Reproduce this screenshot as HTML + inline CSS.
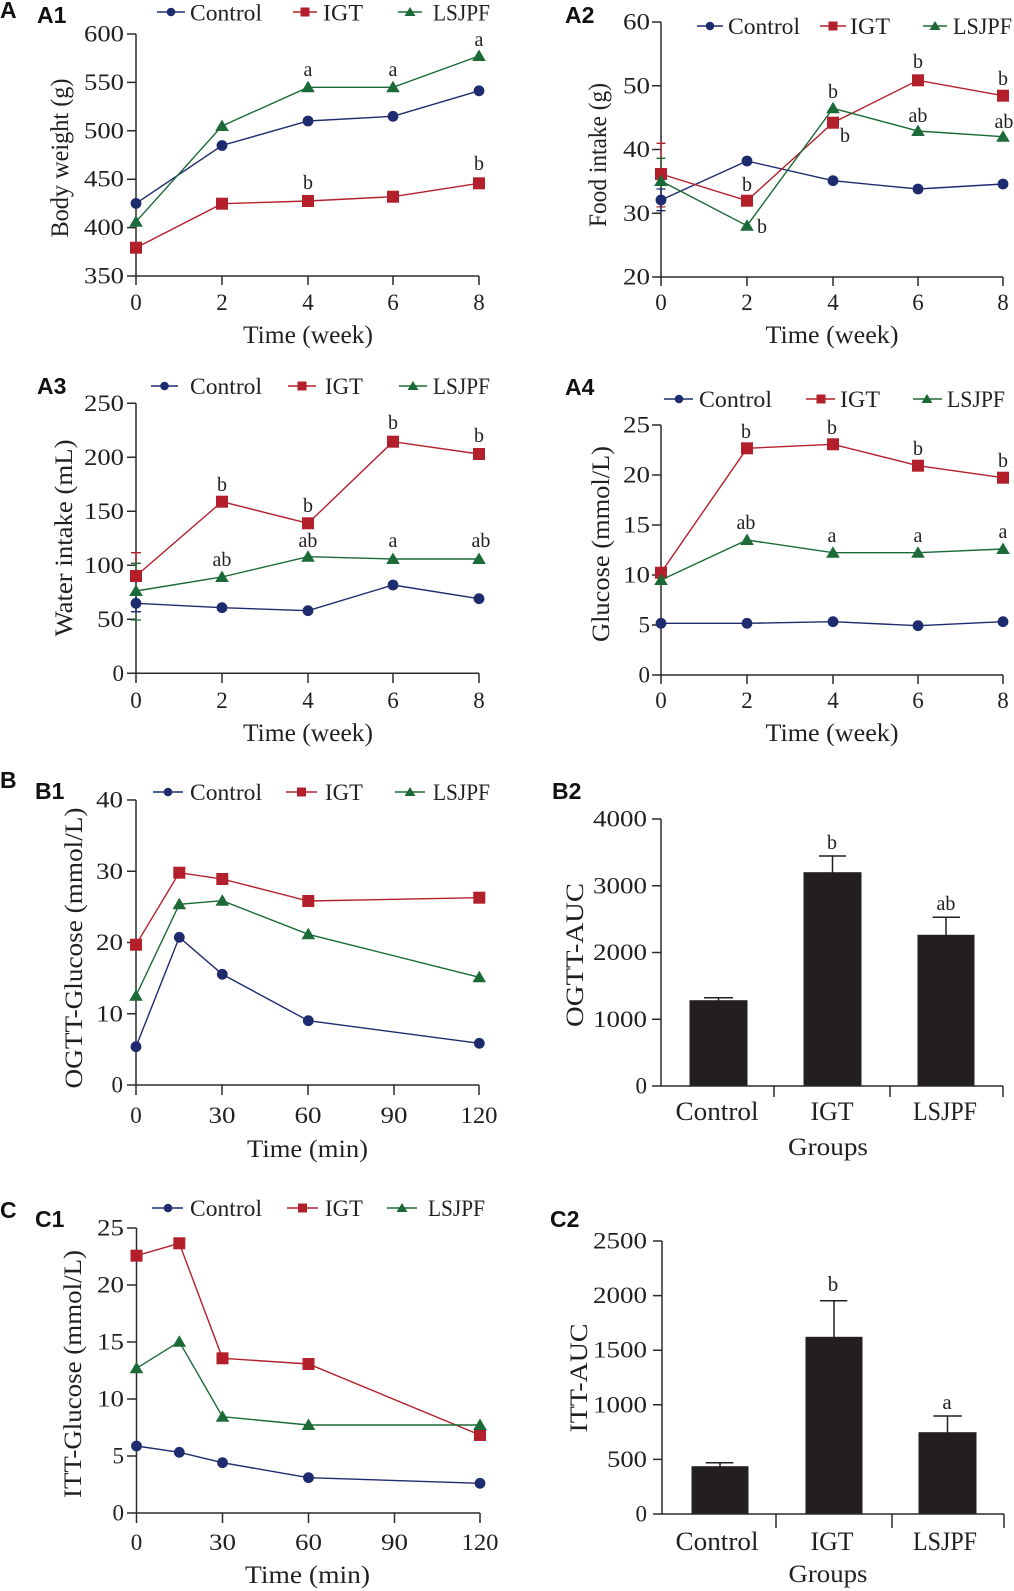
<!DOCTYPE html>
<html><head><meta charset="utf-8">
<style>
html,body{margin:0;padding:0;background:#fff}
svg{display:block}
text{font-family:"Liberation Serif",serif;fill:#231f20}
.tk{font-size:23px}
.lg{font-size:23px}
.ti{font-size:25px}
.an{font-size:20px}
.ct{font-size:26px}
.pl{font-family:"Liberation Sans",sans-serif;font-weight:bold;font-size:23px;fill:#111}
.ax{stroke:#2b2b2b;stroke-width:1.5;fill:none}
.cb{stroke:#1f2b6f;stroke-width:1.4;fill:none;marker-start:url(#mc);marker-mid:url(#mc);marker-end:url(#mc)}
.cr{stroke:#b3202c;stroke-width:1.4;fill:none;marker-start:url(#ms);marker-mid:url(#ms);marker-end:url(#ms)}
.cg{stroke:#1b6a37;stroke-width:1.4;fill:none;marker-start:url(#mt);marker-mid:url(#mt);marker-end:url(#mt)}
.lb{stroke:#1f2b6f;stroke-width:1.4;fill:none;marker-mid:url(#lc)}
.lr{stroke:#b3202c;stroke-width:1.4;fill:none;marker-mid:url(#ls)}
.lgr{stroke:#1b6a37;stroke-width:1.4;fill:none;marker-mid:url(#lt)}
.eb{stroke:#1f2b6f;stroke-width:1.3;fill:none}
.er{stroke:#b3202c;stroke-width:1.3;fill:none}
.eg{stroke:#1b6a37;stroke-width:1.3;fill:none}
.bar{fill:#231f20;stroke:#231f20;stroke-width:1}
.be{stroke:#231f20;stroke-width:1.5;fill:none}
</style></head>
<body>
<svg width="1014" height="1591" viewBox="0 0 1014 1591" xmlns="http://www.w3.org/2000/svg">
<defs>
<marker id="mc" markerUnits="userSpaceOnUse" viewBox="-8 -8 16 16" markerWidth="16" markerHeight="16" refX="0" refY="0" overflow="visible"><circle r="5.4" fill="#1f2b6f"/></marker>
<marker id="ms" markerUnits="userSpaceOnUse" viewBox="-8 -8 16 16" markerWidth="16" markerHeight="16" refX="0" refY="0" overflow="visible"><rect x="-6" y="-6" width="12" height="12" fill="#b3202c"/></marker>
<marker id="mt" markerUnits="userSpaceOnUse" viewBox="-8 -8 16 16" markerWidth="16" markerHeight="16" refX="0" refY="0" overflow="visible"><polygon points="0,-6.5 6.8,5 -6.8,5" fill="#1b6a37"/></marker>
<marker id="lc" markerUnits="userSpaceOnUse" viewBox="-8 -8 16 16" markerWidth="16" markerHeight="16" refX="0" refY="0" overflow="visible"><circle r="4.3" fill="#1f2b6f"/></marker>
<marker id="ls" markerUnits="userSpaceOnUse" viewBox="-8 -8 16 16" markerWidth="16" markerHeight="16" refX="0" refY="0" overflow="visible"><rect x="-4.5" y="-4.5" width="9" height="9" fill="#b3202c"/></marker>
<marker id="lt" markerUnits="userSpaceOnUse" viewBox="-8 -8 16 16" markerWidth="16" markerHeight="16" refX="0" refY="0" overflow="visible"><polygon points="0,-5 5.5,4 -5.5,4" fill="#1b6a37"/></marker>
</defs>
<rect width="1014" height="1591" fill="#fff"/>

<!-- Panel labels -->
<text class="pl" x="0" y="18">A</text>
<text class="pl" x="37" y="23">A1</text>
<text class="pl" x="565" y="23">A2</text>
<text class="pl" x="37" y="394">A3</text>
<text class="pl" x="565" y="395">A4</text>
<text class="pl" x="0" y="788">B</text>
<text class="pl" x="35" y="799">B1</text>
<text class="pl" x="552" y="799">B2</text>
<text class="pl" x="0" y="1218">C</text>
<text class="pl" x="35" y="1227">C1</text>
<text class="pl" x="550" y="1227">C2</text>

<!-- ================= A1 ================= -->
<path class="ax" d="M136,34 V276 M127,276 H479 M127,34 H136 M127,82.4 H136 M127,130.8 H136 M127,179.2 H136 M127,227.6 H136 M136,276 V285 M222,276 V285 M308,276 V285 M393,276 V285 M479,276 V285"/>
<g class="tk" text-anchor="end">
<text x="124" y="41.5" textLength="40" lengthAdjust="spacingAndGlyphs">600</text>
<text x="124" y="89.9" textLength="40" lengthAdjust="spacingAndGlyphs">550</text>
<text x="124" y="138.3" textLength="40" lengthAdjust="spacingAndGlyphs">500</text>
<text x="124" y="186.7" textLength="40" lengthAdjust="spacingAndGlyphs">450</text>
<text x="124" y="235.1" textLength="40" lengthAdjust="spacingAndGlyphs">400</text>
<text x="124" y="283.5" textLength="40" lengthAdjust="spacingAndGlyphs">350</text>
</g>
<g class="tk" text-anchor="middle">
<text x="136" y="310">0</text><text x="222" y="310">2</text><text x="308" y="310">4</text><text x="393" y="310">6</text><text x="479" y="310">8</text>
</g>
<text class="ti" x="308" y="343" text-anchor="middle" textLength="130" lengthAdjust="spacingAndGlyphs">Time (week)</text>
<text class="ti" transform="translate(68,158) rotate(-90)" text-anchor="middle" textLength="159" lengthAdjust="spacingAndGlyphs">Body weight (g)</text>
<polyline class="cb" points="136,203.4 222,145.5 308,121 393,116.3 479,90.8"/>
<polyline class="cr" points="136,247.7 222,203.7 308,201 393,196.7 479,183.3"/>
<polyline class="cg" points="136,221.7 222,126 308,87.3 393,87.3 479,56"/>
<g class="an" text-anchor="middle">
<text x="308" y="76">a</text><text x="393" y="76">a</text><text x="479" y="46">a</text>
<text x="308" y="189">b</text><text x="479" y="170">b</text>
</g>
<polyline class="lb" points="157,12 171,12 185,12"/>
<text class="lg" x="190" y="20.5" textLength="72" lengthAdjust="spacingAndGlyphs">Control</text>
<polyline class="lr" points="293,12 305,12 317,12"/>
<text class="lg" x="323" y="20.5" textLength="40" lengthAdjust="spacingAndGlyphs">IGT</text>
<polyline class="lgr" points="398,12 410,12 422,12"/>
<text class="lg" x="433" y="20.5" textLength="57" lengthAdjust="spacingAndGlyphs">LSJPF</text>

<!-- ================= A2 ================= -->
<path class="ax" d="M661,22 V277 M652,277 H1003 M652,22 H661 M652,85.75 H661 M652,149.5 H661 M652,213.25 H661 M661,277 V286 M747,277 V286 M833,277 V286 M918,277 V286 M1003,277 V286"/>
<g class="tk" text-anchor="end">
<text x="650" y="29.5" textLength="27" lengthAdjust="spacingAndGlyphs">60</text>
<text x="650" y="93.25" textLength="27" lengthAdjust="spacingAndGlyphs">50</text>
<text x="650" y="157" textLength="27" lengthAdjust="spacingAndGlyphs">40</text>
<text x="650" y="220.75" textLength="27" lengthAdjust="spacingAndGlyphs">30</text>
<text x="650" y="284.5" textLength="27" lengthAdjust="spacingAndGlyphs">20</text>
</g>
<g class="tk" text-anchor="middle">
<text x="661" y="310">0</text><text x="747" y="310">2</text><text x="833" y="310">4</text><text x="918" y="310">6</text><text x="1003" y="310">8</text>
</g>
<text class="ti" x="832" y="343" text-anchor="middle" textLength="133" lengthAdjust="spacingAndGlyphs">Time (week)</text>
<text class="ti" transform="translate(606,155) rotate(-90)" text-anchor="middle" textLength="144" lengthAdjust="spacingAndGlyphs">Food intake (g)</text>
<path class="er" d="M661,143.3 V206.9 M656.5,143.3 H665.5 M656.5,206.9 H665.5"/>
<path class="eg" d="M661,158.3 V203 M656.5,158.3 H665.5 M656.5,203 H665.5"/>
<path class="eb" d="M661,189 V210.7 M656.5,189 H665.5 M656.5,210.7 H665.5"/>
<polyline class="cb" points="661,200 747,161 833,180.7 918,189 1003,184"/>
<polyline class="cr" points="661,174 747,200.7 833,122.7 918,80.3 1003,95.7"/>
<polyline class="cg" points="661,181 747,225.7 833,108.3 918,131 1003,136.7"/>
<g class="an" text-anchor="middle">
<text x="833" y="98">b</text><text x="845" y="142">b</text><text x="747" y="191">b</text><text x="762" y="233">b</text>
<text x="918" y="68">b</text><text x="1003" y="85">b</text><text x="918" y="122">ab</text><text x="1004" y="128">ab</text>
</g>
<polyline class="lb" points="697,26 710,26 723,26"/>
<text class="lg" x="728" y="34" textLength="72" lengthAdjust="spacingAndGlyphs">Control</text>
<polyline class="lr" points="820,26 833,26 846,26"/>
<text class="lg" x="850" y="34" textLength="40" lengthAdjust="spacingAndGlyphs">IGT</text>
<polyline class="lgr" points="923,26 935,26 947,26"/>
<text class="lg" x="953" y="34" textLength="59" lengthAdjust="spacingAndGlyphs">LSJPF</text>

<!-- ================= A3 ================= -->
<path class="ax" d="M136,403.3 V673.3 M127,673.3 H479 M127,403.3 H136 M127,457.3 H136 M127,511.3 H136 M127,565.3 H136 M127,619.3 H136 M136,673.3 V683 M222,673.3 V683 M308,673.3 V683 M393,673.3 V683 M479,673.3 V683"/>
<g class="tk" text-anchor="end">
<text x="124" y="410.8" textLength="40" lengthAdjust="spacingAndGlyphs">250</text>
<text x="124" y="464.8" textLength="40" lengthAdjust="spacingAndGlyphs">200</text>
<text x="124" y="518.8" textLength="40" lengthAdjust="spacingAndGlyphs">150</text>
<text x="124" y="572.8" textLength="40" lengthAdjust="spacingAndGlyphs">100</text>
<text x="124" y="626.8" textLength="27" lengthAdjust="spacingAndGlyphs">50</text>
<text x="124" y="680.8">0</text>
</g>
<g class="tk" text-anchor="middle">
<text x="136" y="708">0</text><text x="222" y="708">2</text><text x="308" y="708">4</text><text x="393" y="708">6</text><text x="479" y="708">8</text>
</g>
<text class="ti" x="308" y="741" text-anchor="middle" textLength="130" lengthAdjust="spacingAndGlyphs">Time (week)</text>
<text class="ti" transform="translate(72,538) rotate(-90)" text-anchor="middle" textLength="197" lengthAdjust="spacingAndGlyphs">Water intake (mL)</text>
<path class="er" d="M136,552.7 V600 M131,552.7 H141"/>
<path class="eg" d="M136,563.3 V620 M131,563.3 H141 M131,620 H141"/>
<path class="eb" d="M136,595 V611.7 M131,611.7 H141"/>
<polyline class="cb" points="136,603.3 222,607.7 308,610.7 393,585 479,598.7"/>
<polyline class="cr" points="136,576 222,501.7 308,523.3 393,441.7 479,454"/>
<polyline class="cg" points="136,591 222,577 308,556.7 393,559 479,559"/>
<g class="an" text-anchor="middle">
<text x="222" y="491">b</text><text x="308" y="512">b</text><text x="393" y="429">b</text><text x="479" y="442">b</text>
<text x="222" y="566">ab</text><text x="308" y="547">ab</text><text x="393" y="547">a</text><text x="481" y="547">ab</text>
</g>
<polyline class="lb" points="151,386 164.5,386 178,386"/>
<text class="lg" x="190" y="394" textLength="72" lengthAdjust="spacingAndGlyphs">Control</text>
<polyline class="lr" points="288,386 302,386 316,386"/>
<text class="lg" x="325" y="394" textLength="38" lengthAdjust="spacingAndGlyphs">IGT</text>
<polyline class="lgr" points="399,386 413,386 427,386"/>
<text class="lg" x="433" y="394" textLength="57" lengthAdjust="spacingAndGlyphs">LSJPF</text>

<!-- ================= A4 ================= -->
<path class="ax" d="M661,425 V675 M652,675 H1003 M652,425 H661 M652,475 H661 M652,525 H661 M652,575 H661 M652,625 H661 M661,675 V684 M747,675 V684 M833,675 V684 M918,675 V684 M1003,675 V684"/>
<g class="tk" text-anchor="end">
<text x="650" y="432.5" textLength="27" lengthAdjust="spacingAndGlyphs">25</text>
<text x="650" y="482.5" textLength="27" lengthAdjust="spacingAndGlyphs">20</text>
<text x="650" y="532.5" textLength="27" lengthAdjust="spacingAndGlyphs">15</text>
<text x="650" y="582.5" textLength="27" lengthAdjust="spacingAndGlyphs">10</text>
<text x="650" y="632.5">5</text>
<text x="650" y="682.5">0</text>
</g>
<g class="tk" text-anchor="middle">
<text x="661" y="708">0</text><text x="747" y="708">2</text><text x="833" y="708">4</text><text x="918" y="708">6</text><text x="1003" y="708">8</text>
</g>
<text class="ti" x="832" y="741" text-anchor="middle" textLength="133" lengthAdjust="spacingAndGlyphs">Time (week)</text>
<text class="ti" transform="translate(609,544) rotate(-90)" text-anchor="middle" textLength="196" lengthAdjust="spacingAndGlyphs">Glucose (mmol/L)</text>
<polyline class="cb" points="661,623.3 747,623.3 833,621.7 918,625.7 1003,621.7"/>
<polyline class="cr" points="661,572.7 747,448.3 833,444.3 918,465.7 1003,477.7"/>
<polyline class="cg" points="661,580 747,540 833,552.7 918,552.7 1003,549"/>
<g class="an" text-anchor="middle">
<text x="746" y="438">b</text><text x="832" y="434">b</text><text x="918" y="455">b</text><text x="1003" y="467">b</text>
<text x="746" y="529">ab</text><text x="832" y="542">a</text><text x="918" y="542">a</text><text x="1003" y="538">a</text>
</g>
<polyline class="lb" points="664,399 679,399 693,399"/>
<text class="lg" x="699" y="407" textLength="73" lengthAdjust="spacingAndGlyphs">Control</text>
<polyline class="lr" points="806,399 821,399 835,399"/>
<text class="lg" x="840" y="407" textLength="40" lengthAdjust="spacingAndGlyphs">IGT</text>
<polyline class="lgr" points="913,399 927,399 942,399"/>
<text class="lg" x="947" y="407" textLength="58" lengthAdjust="spacingAndGlyphs">LSJPF</text>

<!-- ================= B1 ================= -->
<path class="ax" d="M136,800 V1085 M127,1085 H479 M127,800 H136 M127,871.25 H136 M127,942.5 H136 M127,1013.75 H136 M136,1085 V1095 M222,1085 V1095 M308,1085 V1095 M394,1085 V1095 M479,1085 V1095"/>
<g class="tk" text-anchor="end">
<text x="123" y="807.5" textLength="27" lengthAdjust="spacingAndGlyphs">40</text>
<text x="123" y="878.75" textLength="27" lengthAdjust="spacingAndGlyphs">30</text>
<text x="123" y="950" textLength="27" lengthAdjust="spacingAndGlyphs">20</text>
<text x="123" y="1021.25" textLength="27" lengthAdjust="spacingAndGlyphs">10</text>
<text x="123" y="1092.5">0</text>
</g>
<g class="tk" text-anchor="middle">
<text x="136" y="1123">0</text>
<text x="222" y="1123" textLength="27" lengthAdjust="spacingAndGlyphs">30</text>
<text x="308" y="1123" textLength="27" lengthAdjust="spacingAndGlyphs">60</text>
<text x="394" y="1123" textLength="27" lengthAdjust="spacingAndGlyphs">90</text>
<text x="479" y="1123" textLength="37" lengthAdjust="spacingAndGlyphs">120</text>
</g>
<text class="ti" x="307.5" y="1157" text-anchor="middle" textLength="121" lengthAdjust="spacingAndGlyphs">Time (min)</text>
<text class="ti" transform="translate(82,948) rotate(-90)" text-anchor="middle" textLength="281" lengthAdjust="spacingAndGlyphs">OGTT-Glucose (mmol/L)</text>
<polyline class="cb" points="136,1046.7 179.3,937.3 222.3,974.3 308.3,1020.7 479.3,1043.3"/>
<polyline class="cr" points="136,944.7 179.3,872.7 222.3,879 308.3,901 479.3,897.7"/>
<polyline class="cg" points="136,995.7 179.3,904.3 222.3,900.7 308.3,934.3 479.3,977.3"/>
<polyline class="lb" points="153,792 168,792 183,792"/>
<text class="lg" x="190" y="800" textLength="72" lengthAdjust="spacingAndGlyphs">Control</text>
<polyline class="lr" points="286,792 301.5,792 317,792"/>
<text class="lg" x="325" y="800" textLength="38" lengthAdjust="spacingAndGlyphs">IGT</text>
<polyline class="lgr" points="395,792 410,792 425,792"/>
<text class="lg" x="433" y="800" textLength="57" lengthAdjust="spacingAndGlyphs">LSJPF</text>

<!-- ================= B2 ================= -->
<rect class="bar" x="690" y="1000.7" width="57" height="85.3"/>
<rect class="bar" x="804" y="872.7" width="57" height="213.3"/>
<rect class="bar" x="918" y="935.3" width="56" height="150.7"/>
<path class="be" d="M718.5,1000.7 V997.7 M704,997.7 H733 M832.5,872.7 V856 M819,856 H846 M946,935.3 V917.3 M932.7,917.3 H960"/>
<path class="ax" d="M661,819 V1086 M652,1086 H1003 M652,819 H661 M652,885.75 H661 M652,952.5 H661 M652,1019.25 H661 M774,1086 V1097 M890,1086 V1097 M1003,1086 V1097"/>
<g class="tk" text-anchor="end">
<text x="647" y="826.5" textLength="54" lengthAdjust="spacingAndGlyphs">4000</text>
<text x="647" y="893.25" textLength="54" lengthAdjust="spacingAndGlyphs">3000</text>
<text x="647" y="960" textLength="54" lengthAdjust="spacingAndGlyphs">2000</text>
<text x="647" y="1026.75" textLength="54" lengthAdjust="spacingAndGlyphs">1000</text>
<text x="647" y="1093.5">0</text>
</g>
<g class="an" text-anchor="middle">
<text x="832" y="849">b</text><text x="946" y="910">ab</text>
</g>
<g class="ct" text-anchor="middle">
<text x="717" y="1120" textLength="83" lengthAdjust="spacingAndGlyphs">Control</text>
<text x="832" y="1120" textLength="43" lengthAdjust="spacingAndGlyphs">IGT</text>
<text x="945" y="1120" textLength="64" lengthAdjust="spacingAndGlyphs">LSJPF</text>
</g>
<text class="ti" x="828" y="1155" text-anchor="middle" textLength="80" lengthAdjust="spacingAndGlyphs">Groups</text>
<text class="ti" transform="translate(583,955) rotate(-90)" text-anchor="middle" textLength="144" lengthAdjust="spacingAndGlyphs">OGTT-AUC</text>

<!-- ================= C1 ================= -->
<path class="ax" d="M136.5,1228 V1513 M127,1513 H480 M127,1228 H136.5 M127,1285 H136.5 M127,1342 H136.5 M127,1399 H136.5 M127,1456 H136.5 M136.5,1513 V1523 M222.5,1513 V1523 M308.5,1513 V1523 M394.5,1513 V1523 M480,1513 V1523"/>
<g class="tk" text-anchor="end">
<text x="124" y="1235.5" textLength="27" lengthAdjust="spacingAndGlyphs">25</text>
<text x="124" y="1292.5" textLength="27" lengthAdjust="spacingAndGlyphs">20</text>
<text x="124" y="1349.5" textLength="27" lengthAdjust="spacingAndGlyphs">15</text>
<text x="124" y="1406.5" textLength="27" lengthAdjust="spacingAndGlyphs">10</text>
<text x="124" y="1463.5">5</text>
<text x="124" y="1520.5">0</text>
</g>
<g class="tk" text-anchor="middle">
<text x="136.5" y="1550">0</text>
<text x="222.5" y="1550" textLength="27" lengthAdjust="spacingAndGlyphs">30</text>
<text x="308.5" y="1550" textLength="27" lengthAdjust="spacingAndGlyphs">60</text>
<text x="394.5" y="1550" textLength="27" lengthAdjust="spacingAndGlyphs">90</text>
<text x="480" y="1550" textLength="37" lengthAdjust="spacingAndGlyphs">120</text>
</g>
<text class="ti" x="307.5" y="1583" text-anchor="middle" textLength="125" lengthAdjust="spacingAndGlyphs">Time (min)</text>
<text class="ti" transform="translate(81,1374) rotate(-90)" text-anchor="middle" textLength="248" lengthAdjust="spacingAndGlyphs">ITT-Glucose (mmol/L)</text>
<polyline class="cb" points="136.5,1446 179.3,1452.3 222.5,1462.7 308.5,1477.7 480,1483.3"/>
<polyline class="cr" points="136.5,1255.7 179.3,1243.3 222.5,1358.3 308.5,1364 480,1435"/>
<polyline class="cg" points="136.5,1368.3 179.3,1341.7 222.5,1416.7 308.5,1425 480,1425"/>
<polyline class="lb" points="152,1208 168,1208 183,1208"/>
<text class="lg" x="190" y="1216" textLength="72" lengthAdjust="spacingAndGlyphs">Control</text>
<polyline class="lr" points="287,1208 302.5,1208 318,1208"/>
<text class="lg" x="325" y="1216" textLength="38" lengthAdjust="spacingAndGlyphs">IGT</text>
<polyline class="lgr" points="387,1208 402,1208 417,1208"/>
<text class="lg" x="428" y="1216" textLength="57" lengthAdjust="spacingAndGlyphs">LSJPF</text>

<!-- ================= C2 ================= -->
<rect class="bar" x="692" y="1466.7" width="56" height="47.3"/>
<rect class="bar" x="806" y="1337.3" width="56" height="176.7"/>
<rect class="bar" x="919" y="1432.7" width="57" height="81.3"/>
<path class="be" d="M720,1466.7 V1462.7 M705.7,1462.7 H733.3 M834,1337.3 V1300.7 M820,1300.7 H847.3 M947.5,1432.7 V1416 M933.3,1416 H961.7"/>
<path class="ax" d="M662,1241 V1514 M653,1514 H1004 M653,1241 H662 M653,1295.6 H662 M653,1350.2 H662 M653,1404.8 H662 M653,1459.4 H662 M776,1514 V1528 M892,1514 V1528 M1004,1514 V1528"/>
<g class="tk" text-anchor="end">
<text x="647" y="1248.5" textLength="54" lengthAdjust="spacingAndGlyphs">2500</text>
<text x="647" y="1303.1" textLength="54" lengthAdjust="spacingAndGlyphs">2000</text>
<text x="647" y="1357.7" textLength="54" lengthAdjust="spacingAndGlyphs">1500</text>
<text x="647" y="1412.3" textLength="54" lengthAdjust="spacingAndGlyphs">1000</text>
<text x="647" y="1466.9" textLength="40" lengthAdjust="spacingAndGlyphs">500</text>
<text x="647" y="1521.5">0</text>
</g>
<g class="an" text-anchor="middle" style="font-size:21px">
<text x="833" y="1291">b</text><text x="947" y="1409">a</text>
</g>
<g class="ct" text-anchor="middle">
<text x="717" y="1550" textLength="83" lengthAdjust="spacingAndGlyphs">Control</text>
<text x="832" y="1550" textLength="43" lengthAdjust="spacingAndGlyphs">IGT</text>
<text x="945" y="1550" textLength="64" lengthAdjust="spacingAndGlyphs">LSJPF</text>
</g>
<text class="ti" x="828" y="1582" text-anchor="middle" textLength="79" lengthAdjust="spacingAndGlyphs">Groups</text>
<text class="ti" transform="translate(587,1378) rotate(-90)" text-anchor="middle" textLength="109" lengthAdjust="spacingAndGlyphs">ITT-AUC</text>
</svg>
</body></html>
